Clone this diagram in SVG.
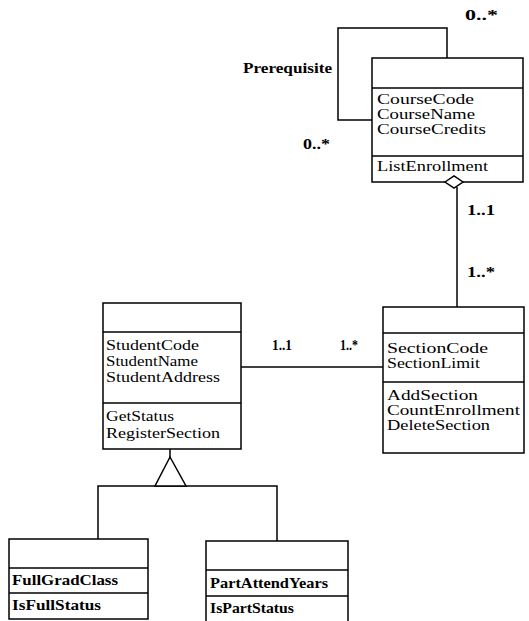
<svg xmlns="http://www.w3.org/2000/svg" width="529" height="621" viewBox="0 0 529 621">
<style>
.box{fill:#fff;stroke:#000;stroke-width:1.5}
.div{stroke:#000;stroke-width:1.5}
.ln{fill:none;stroke:#000;stroke-width:1.5}
.t{font-family:"Liberation Serif","Times New Roman",serif;font-size:14px;fill:#000}
.b{font-family:"Liberation Serif","Times New Roman",serif;font-size:14px;font-weight:bold;fill:#000}
</style>
<rect width="529" height="621" fill="#fff"/>
<g id="connectors">
<polyline class="ln" points="372,120 338,120 338,28 447,28 447,58"/>
<line class="ln" x1="457" y1="187" x2="457" y2="307"/>
<line class="ln" x1="241" y1="367" x2="383" y2="367"/>
<line class="ln" x1="170" y1="449" x2="170" y2="457"/>
<polyline class="ln" points="98,539 98,486 277,486 277,541"/>
<polygon points="170,457 155,486 186,486" fill="#fff" stroke="#000" stroke-width="1.5"/>
<text class="b" x="243" y="73" textLength="89" lengthAdjust="spacingAndGlyphs">Prerequisite</text>
<text class="b" x="465" y="20" textLength="33" lengthAdjust="spacingAndGlyphs">0..*</text>
<text class="b" x="303" y="149" textLength="27" lengthAdjust="spacingAndGlyphs">0..*</text>
<text class="b" x="467" y="215" textLength="28" lengthAdjust="spacingAndGlyphs">1..1</text>
<text class="b" x="467" y="277" textLength="28" lengthAdjust="spacingAndGlyphs">1..*</text>
<text class="b" x="272" y="350" textLength="20" lengthAdjust="spacingAndGlyphs">1..1</text>
<text class="b" x="340" y="350" textLength="18" lengthAdjust="spacingAndGlyphs">1..*</text>
</g>
<g id="course">
<rect class="box" x="372" y="58" width="151" height="124"/>
<line class="div" x1="372" y1="88" x2="523" y2="88"/>
<line class="div" x1="372" y1="156" x2="523" y2="156"/>
<text class="t" x="377" y="104" textLength="97" lengthAdjust="spacingAndGlyphs">CourseCode</text>
<text class="t" x="377" y="119" textLength="98" lengthAdjust="spacingAndGlyphs">CourseName</text>
<text class="t" x="377" y="134" textLength="109" lengthAdjust="spacingAndGlyphs">CourseCredits</text>
<text class="t" x="377" y="171" textLength="111" lengthAdjust="spacingAndGlyphs">ListEnrollment</text>
<polygon points="445,182 454,176 463,182 454,188" fill="#fff" stroke="#000" stroke-width="1.5"/>
</g>
<g id="student">
<rect class="box" x="103" y="303" width="138" height="146"/>
<line class="div" x1="103" y1="332" x2="241" y2="332"/>
<line class="div" x1="103" y1="403" x2="241" y2="403"/>
<text class="t" x="106" y="350" textLength="93" lengthAdjust="spacingAndGlyphs">StudentCode</text>
<text class="t" x="106" y="366" textLength="92" lengthAdjust="spacingAndGlyphs">StudentName</text>
<text class="t" x="106" y="382" textLength="114" lengthAdjust="spacingAndGlyphs">StudentAddress</text>
<text class="t" x="106" y="421" textLength="68" lengthAdjust="spacingAndGlyphs">GetStatus</text>
<text class="t" x="106" y="438" textLength="114" lengthAdjust="spacingAndGlyphs">RegisterSection</text>
</g>
<g id="section">
<rect class="box" x="383" y="307" width="141" height="146"/>
<line class="div" x1="383" y1="333" x2="524" y2="333"/>
<line class="div" x1="383" y1="382" x2="524" y2="382"/>
<text class="t" x="387" y="353" textLength="101" lengthAdjust="spacingAndGlyphs">SectionCode</text>
<text class="t" x="387" y="368" textLength="93" lengthAdjust="spacingAndGlyphs">SectionLimit</text>
<text class="t" x="387" y="400" textLength="91" lengthAdjust="spacingAndGlyphs">AddSection</text>
<text class="t" x="387" y="415" textLength="133" lengthAdjust="spacingAndGlyphs">CountEnrollment</text>
<text class="t" x="387" y="430" textLength="103" lengthAdjust="spacingAndGlyphs">DeleteSection</text>
</g>
<g id="fullgrad">
<rect class="box" x="9" y="539" width="139" height="80"/>
<line class="div" x1="9" y1="568" x2="148" y2="568"/>
<line class="div" x1="9" y1="593" x2="148" y2="593"/>
<text class="b" x="12" y="585" textLength="106" lengthAdjust="spacingAndGlyphs">FullGradClass</text>
<text class="b" x="12" y="610" textLength="89" lengthAdjust="spacingAndGlyphs">IsFullStatus</text>
</g>
<g id="partattend">
<rect class="box" x="206" y="541" width="142" height="90"/>
<line class="div" x1="206" y1="570" x2="348" y2="570"/>
<line class="div" x1="206" y1="596" x2="348" y2="596"/>
<text class="b" x="210" y="588" textLength="118" lengthAdjust="spacingAndGlyphs">PartAttendYears</text>
<text class="b" x="210" y="613" textLength="84" lengthAdjust="spacingAndGlyphs">IsPartStatus</text>
</g>
</svg>
